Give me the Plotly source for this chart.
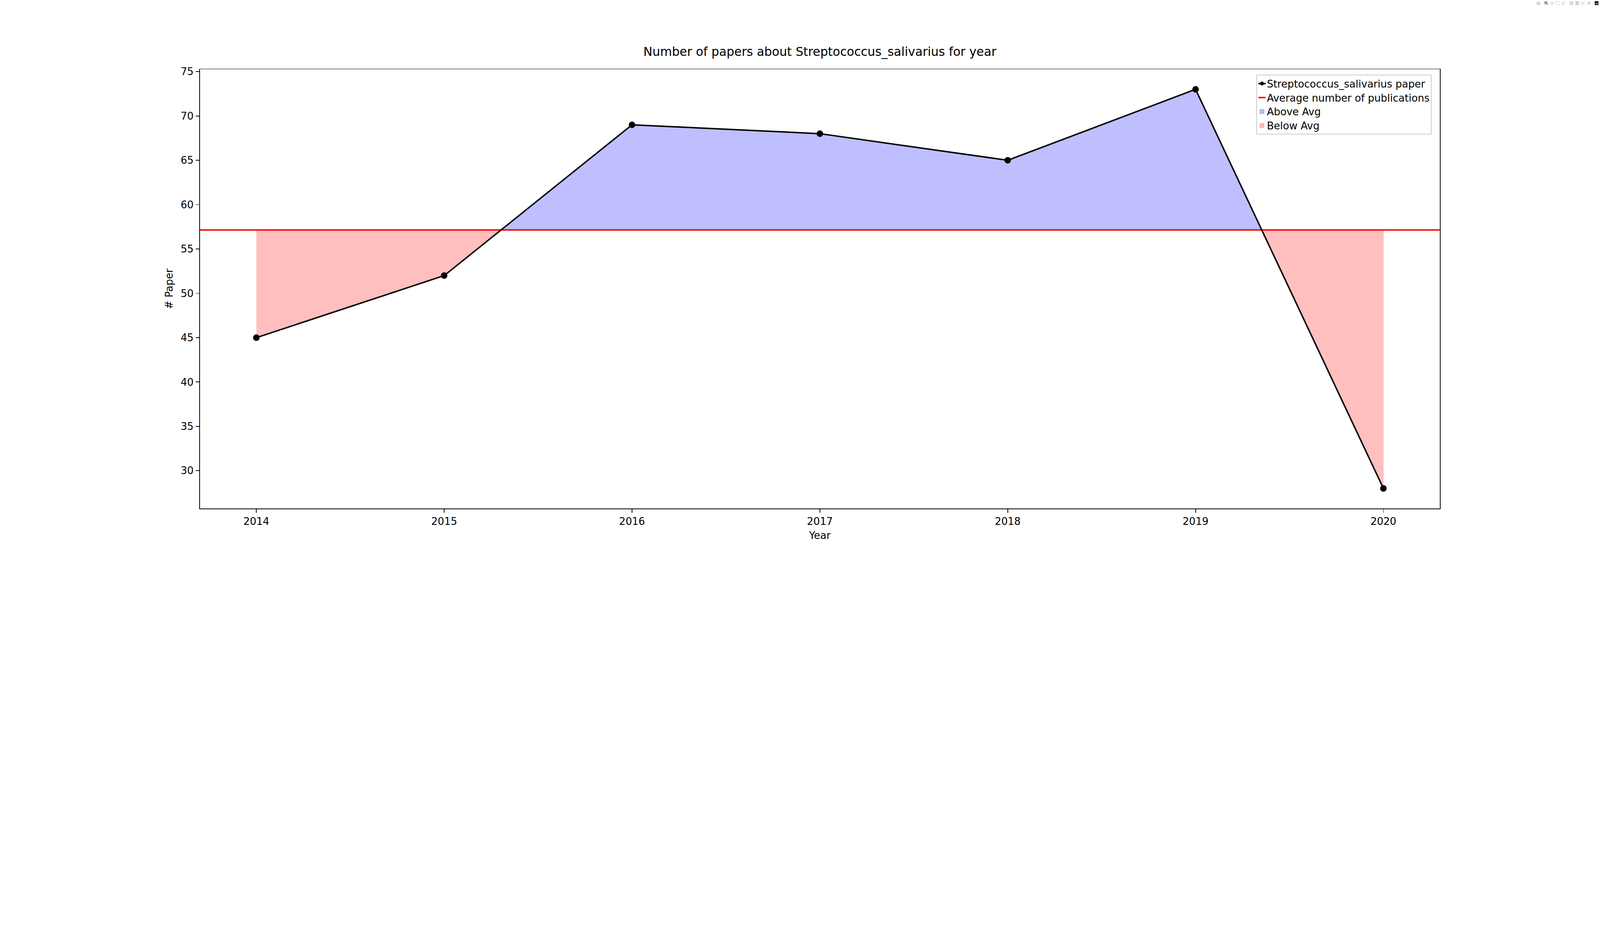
import numpy as np
import plotly.graph_objects as go

years = [2014, 2015, 2016, 2017, 2018, 2019, 2020]
papers = [45, 52, 69, 68, 65, 73, 28]
avg = float(np.mean(papers))

x = np.array(years, float); y = np.array(papers, float)
px_, py_ = [x[0]], [y[0]]
for i in range(len(x) - 1):
    if (y[i] - avg) * (y[i+1] - avg) < 0:
        t = (avg - y[i]) / (y[i+1] - y[i])
        px_.append(x[i] + t * (x[i+1] - x[i])); py_.append(avg)
    px_.append(x[i+1]); py_.append(y[i+1])
px_ = np.array(px_); py_ = np.array(py_)

def polys(cond):
    segs, cur = [], []
    for xi, yi in zip(px_, py_):
        if cond(yi) or abs(yi - avg) < 1e-9:
            cur.append((xi, yi))
        else:
            if len(cur) > 1: segs.append(cur)
            cur = []
    if len(cur) > 1: segs.append(cur)
    xs, ys = [], []
    for s in segs:
        sx = [p[0] for p in s]; sy = [p[1] for p in s]
        xs += sx + sx[::-1] + [None]; ys += sy + [avg]*len(sx) + [None]
    return xs, ys

fig = go.Figure()
ax_, ay_ = polys(lambda v: v > avg)
bx_, by_ = polys(lambda v: v < avg)
fig.add_trace(go.Scatter(x=ax_, y=ay_, fill="toself", fillcolor="rgba(0,0,255,0.25)",
                         line=dict(color="rgba(0,0,255,0.25)", width=1), mode="lines",
                         name="Above Avg", showlegend=False))
fig.add_trace(go.Scatter(x=bx_, y=by_, fill="toself", fillcolor="rgba(255,0,0,0.25)",
                         line=dict(color="rgba(255,0,0,0.25)", width=1), mode="lines",
                         name="Below Avg", showlegend=False))
fig.add_trace(go.Scatter(x=[2013.7, 2020.3], y=[avg, avg], mode="lines",
                         line=dict(color="red", width=6), showlegend=False))
fig.add_trace(go.Scatter(x=years, y=papers, mode="lines+markers", name="Streptococcus_salivarius paper",
                         line=dict(color="black", width=6), marker=dict(size=27, color="black")))
fig.add_trace(go.Scatter(x=[None], y=[None], mode="lines", name="Average number of publications",
                         line=dict(color="red", width=6)))
fig.add_trace(go.Scatter(x=[None], y=[None], mode="markers", name="Above Avg",
                         marker=dict(symbol="square", size=36, color="rgba(0,0,255,0.25)",
                                     line=dict(color="rgba(0,0,255,0.4)", width=2))))
fig.add_trace(go.Scatter(x=[None], y=[None], mode="markers", name="Below Avg",
                         marker=dict(symbol="square", size=36, color="rgba(255,0,0,0.25)",
                                     line=dict(color="rgba(255,0,0,0.4)", width=2))))

ax = dict(showgrid=False, zeroline=False, showline=True, linecolor="black", linewidth=3, mirror=True,
          ticks="outside", ticklen=15, tickwidth=3, tickcolor="black",
          tickfont=dict(size=42, color="black"))
fig.update_layout(
    width=6600, height=2400, autosize=False, paper_bgcolor="white", plot_bgcolor="white",
    font=dict(family="DejaVu Sans", color="black"),
    margin=dict(l=825, r=661, t=286, b=304),
    title=dict(text="Number of papers about Streptococcus_salivarius for year", x=0.5, xref="paper",
               y=1 - 230/2400, yanchor="bottom", font=dict(size=50)),
    xaxis=dict(ax, range=[2013.7, 2020.3], tickvals=years, title=dict(text="Year", font=dict(size=42), standoff=20)),
    yaxis=dict(ax, range=[25.75, 75.25], tickvals=list(range(30, 76, 5)),
               title=dict(text="# Paper", font=dict(size=42), standoff=20)),
    legend=dict(x=0.9935, y=0.988, xanchor="right", yanchor="top", bgcolor="white",
                bordercolor="#cccccc", borderwidth=3, font=dict(size=42), tracegroupgap=0),
)
post = """
document.body.style.margin='0';
document.body.style.overflow='hidden';
var d=document.getElementById('{plot_id}');
var s=window.innerWidth/6600;
d.style.transformOrigin='0 0';
d.style.transform='scale('+s+')';
"""
fig.write_html("out.html", config={"responsive": False}, post_script=post)
